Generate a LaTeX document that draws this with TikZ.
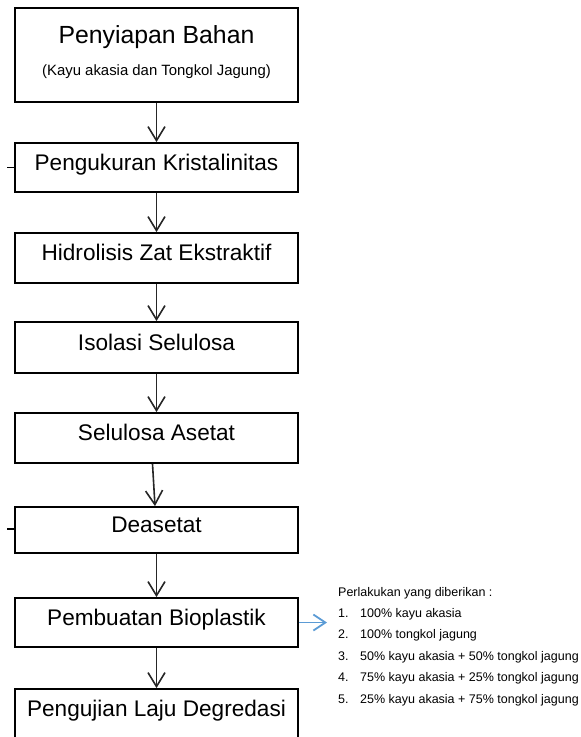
\documentclass[tikz,border=0pt]{standalone}
\usepackage{fontspec}
\setmainfont{Liberation Sans}
\usetikzlibrary{arrows.meta,positioning}
\definecolor{officeblue}{HTML}{5B9BD5}

\begin{document}
\begin{tikzpicture}[x=1pt, y=-1pt,
  box/.style={draw, line width=1.8pt, minimum width=283pt, inner sep=0pt, font=\fontsize{22.6}{26}\selectfont},
  single/.style={box, text height=0.72em, text depth=0.22em},
  flow/.style={line width=1.6pt, draw=black!85, -{Straight Barb[length=14pt,width=17pt,line width=1.6pt]}},
  side/.style={line width=1.8pt, draw=officeblue, -{Straight Barb[length=12pt,width=16pt,line width=1.8pt]}},
  item/.style={anchor=base west, inner sep=0pt, font=\fontsize{12.5}{15}\selectfont}]
\clip (0,0) rectangle (581,737);

% Process boxes
\node[box, minimum height=94pt, align=center, text depth=9pt] (bahan) at (156.5,55)
  {\fontsize{24.8}{28}\selectfont Penyiapan Bahan\\[6pt]{\fontsize{14.9}{17}\selectfont (Kayu akasia dan Tongkol Jagung)}};
\node[single, minimum height=49pt] (kristal) at (156.5,167.5) {Pengukuran Kristalinitas};
\node[single, minimum height=50pt] (hidro) at (156.5,258) {Hidrolisis Zat Ekstraktif};
\node[single, minimum height=51pt] (isolasi) at (156.5,347.5) {Isolasi Selulosa};
\node[single, minimum height=50pt] (asetat) at (156.5,438) {Selulosa Asetat};
\node[single, minimum height=46pt] (deasetat) at (156.5,530) {Deasetat};
\node[single, minimum height=49pt] (bio) at (156.5,622.5) {Pembuatan Bioplastik};
\node[single, minimum height=49pt] (uji) at (156.5,713.5) {Pengujian Laju Degredasi};

% Arrows
\draw[flow] (bahan) -- (kristal);
\draw[flow] (kristal) -- (hidro);
\draw[flow] (hidro) -- (isolasi);
\draw[flow] (isolasi) -- (asetat);
\draw[flow] ([xshift=-4pt]asetat.south) -- ([xshift=-1.5pt]deasetat.north);
\draw[flow] (deasetat) -- (bio);
\draw[flow] (bio) -- (uji);

% Stubs on the left
\coordinate (stubA) at (7,167.5);
\coordinate (stubB) at (7,529);
\draw[line width=1.4pt] (stubA) -- (kristal.west);
\draw[line width=1.4pt] (stubB) -- (deasetat.west |- stubB);

% Treatments
\coordinate (perlakuan) at (327,622.5);
\draw[side] (bio.east) -- (perlakuan);
\node[item] (judul) at (338,596) {Perlakukan yang diberikan :};
\foreach \i/\txt in {1/100\% kayu akasia, 2/100\% tongkol jagung,
  3/50\% kayu akasia + 50\% tongkol jagung, 4/75\% kayu akasia + 25\% tongkol jagung,
  5/25\% kayu akasia + 75\% tongkol jagung} {
  \node[item] (no\i) at (338,595.5+21.6*\i) {\i.};
  \node[item] (item\i) at (360,595.5+21.6*\i) {\txt};
}
\end{tikzpicture}
\end{document}
